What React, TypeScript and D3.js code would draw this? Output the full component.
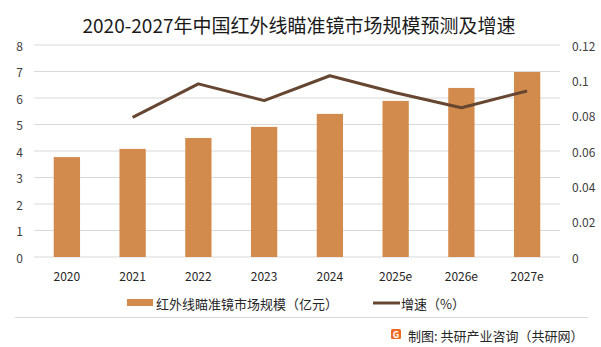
import React from "react";
import * as d3 from "d3";

const categories = ["2020", "2021", "2022", "2023", "2024", "2025e", "2026e", "2027e"];
const marketSize = [3.77, 4.08, 4.49, 4.91, 5.4, 5.89, 6.38, 6.98];
const growth: (number | null)[] = [null, 0.079, 0.098, 0.0885, 0.1026, 0.093, 0.0845, 0.094];
const leftTicks = [0, 1, 2, 3, 4, 5, 6, 7, 8];
const rightTicks = [0, 0.02, 0.04, 0.06, 0.08, 0.1, 0.12];
const title = "2020-2027年中国红外线瞄准镜市场规模预测及增速";
const legendBar = "红外线瞄准镜市场规模（亿元）";
const legendLine = "增速（%）";
const footer = "制图: 共研产业咨询（共研网）";

const W = 601;
const H = 347;
const plot = { left: 34, right: 560, top: 45, bottom: 257 };
const BAR = "#D38B4D";
const LINE = "#664631";
const GRID = "#D9D9D9";
const TEXT = "#404040";
const FONT = "'Noto Sans CJK SC', 'Noto Sans', sans-serif";

export default function App() {
  const x = d3.scaleBand<string>().domain(categories).range([plot.left, plot.right]).padding(0);
  const yL = d3.scaleLinear().domain([0, 8]).range([plot.bottom, plot.top]);
  const yR = d3.scaleLinear().domain([0, 0.12]).range([plot.bottom, plot.top]);
  const barW = x.bandwidth() * 0.4;
  const cx = (c: string) => (x(c) as number) + x.bandwidth() / 2;

  const lineGen = d3
    .line<number | null>()
    .defined((d) => d !== null)
    .x((_, i) => cx(categories[i]))
    .y((d) => yR(d as number));

  return (
    <svg width={W} height={H} style={{ position: "absolute", left: 0, top: 0, background: "#fff" }} fontFamily={FONT}>
      <rect x={0} y={0} width={W} height={H} fill="#fff" />
      <text x={299} y={24} textAnchor="middle" dominantBaseline="central" fontSize={19} fill="#1a1a1a">
        {title}
      </text>
      {leftTicks.map((t) => (
        <line key={"g" + t} x1={plot.left} x2={plot.right} y1={yL(t)} y2={yL(t)} stroke={GRID} strokeWidth={1} />
      ))}
      {leftTicks.map((t) => (
        <text key={"l" + t} x={23} y={yL(t)} textAnchor="end" dominantBaseline="central" fontSize={12} fill={TEXT}>
          {t}
        </text>
      ))}
      {rightTicks.map((t) => (
        <text key={"r" + t} x={572} y={yR(t)} textAnchor="start" dominantBaseline="central" fontSize={12} fill={TEXT}>
          {t}
        </text>
      ))}
      {categories.map((c, i) => (
        <rect key={"b" + c} x={cx(c) - barW / 2} y={yL(marketSize[i])} width={barW} height={yL(0) - yL(marketSize[i])} fill={BAR} />
      ))}
      <path d={lineGen(growth) || ""} fill="none" stroke={LINE} strokeWidth={3} strokeLinejoin="round" />
      {categories.map((c) => (
        <text key={"x" + c} x={cx(c)} y={275} textAnchor="middle" dominantBaseline="central" fontSize={12} fill="#262626">
          {c}
        </text>
      ))}
      <rect x={127} y={299} width={26} height={7} fill={BAR} />
      <text x={156} y={303} dominantBaseline="central" fontSize={13} fill="#262626">
        {legendBar}
      </text>
      <line x1={373} x2={400} y1={303} y2={303} stroke={LINE} strokeWidth={3} />
      <text x={401} y={303} dominantBaseline="central" fontSize={13} fill="#262626">
        {legendLine}
      </text>
      <line x1={15} x2={588} y1={317.5} y2={317.5} stroke={GRID} strokeWidth={1} />
      <rect x={391} y={329} width={10} height={10} rx={1.5} fill="#F26A21" />
      <text x={396} y={334.5} textAnchor="middle" dominantBaseline="central" fontSize={9} fontWeight="bold" fill="#fff">
        G
      </text>
      <text x={408} y={335} dominantBaseline="central" fontSize={13} fill="#262626">
        {footer}
      </text>
    </svg>
  );
}
